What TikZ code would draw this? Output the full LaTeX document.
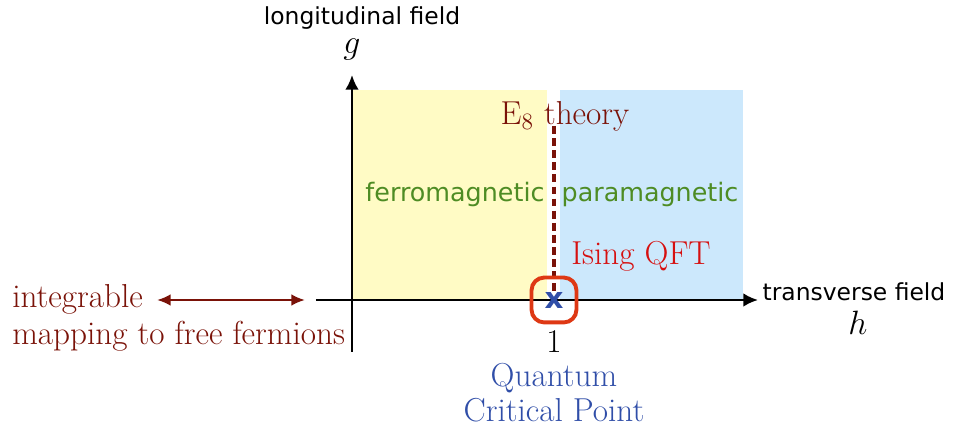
\documentclass[tikz,border=0pt]{standalone}
\usepackage{fontspec}
\newfontfamily\sansfont{DejaVu Sans}
\usetikzlibrary{arrows.meta}
\definecolor{ferroyellow}{RGB}{255,251,197}
\definecolor{parablue}{RGB}{204,232,252}
\definecolor{darkred}{RGB}{122,18,8}
\definecolor{phasegreen}{RGB}{78,140,36}
\definecolor{isingred}{RGB}{214,16,16}
\definecolor{boxred}{RGB}{222,56,20}
\definecolor{qcpblue}{RGB}{48,78,168}
\begin{document}
\begin{tikzpicture}[x=1.8cm,y=1.8cm,
  every node/.style={font=\fontsize{17}{18}\selectfont,inner sep=1pt},
  sanslabel/.style={font=\sansfont\fontsize{12}{14}\selectfont},
  phaselabel/.style={font=\sansfont\fontsize{13}{15}\selectfont,text=phasegreen},
  axisline/.style={line width=1.3pt,-{Latex[length=7.5pt,width=7pt]}}]
\useasboundingbox (-3.52,-1.30) rectangle (6.06,3.00);
% phase regions
\fill[ferroyellow] (0,0) rectangle (1.95,2.10);
\fill[parablue] (2.08,0) rectangle (3.91,2.10);
% axes
\coordinate (hstart) at (-0.36,0);
\coordinate (hend) at (4.06,0);
\coordinate (gstart) at (0,-0.52);
\coordinate (gend) at (0,2.25);
\draw[axisline] (hstart) -- (hend);
\draw[axisline] (gstart) -- (gend);
\node[sanslabel] (hlab) at (5.02,0.08) {transverse field};
\node (hvar) at (5.06,-0.23) {$h$};
\node[sanslabel] (glab) at (0.10,2.82) {longitudinal field};
\node (gvar) at (0,2.50) {$g$};
% phases
\node[phaselabel] (ferro) at (1.03,1.05) {ferromagnetic};
\node[phaselabel] (para) at (2.98,1.05) {paramagnetic};
% critical line and point
\coordinate (e8top) at (2.02,1.74);
\node[text=darkred] (e8) at (2.13,1.84) {E$_8$ theory};
\node[text=isingred] (ising) at (2.89,0.44) {Ising QFT};
\draw[darkred,line width=2pt,dash pattern=on 4pt off 2.2pt] (e8top) -- (2.02,0.05);
\node[font=\sansfont\bfseries\fontsize{15}{16}\selectfont,text=qcpblue,inner sep=0pt] (cross) at (2.02,0) {x};
\node[draw=boxred,line width=2pt,rounded corners=6.5pt,minimum size=23pt] (qcpbox) at (cross) {};
\node (one) at (2.02,-0.42) {1};
\node[text=qcpblue,align=center] (qcplab) at (2.02,-0.93) {Quantum\\Critical Point};
% integrable side
\coordinate (mapr) at (-0.47,0);
\node[text=darkred,anchor=base west] (intg) at (-3.42,-0.08) {integrable};
\node[text=darkred,anchor=base west] (fermions) at (-3.42,-0.45) {mapping to free fermions};
\draw[darkred,line width=1.2pt,{Latex[length=7pt,width=6pt]}-{Latex[length=7pt,width=6pt]},shorten <=6pt] (intg.east |- mapr) -- (mapr);
\end{tikzpicture}
\end{document}
